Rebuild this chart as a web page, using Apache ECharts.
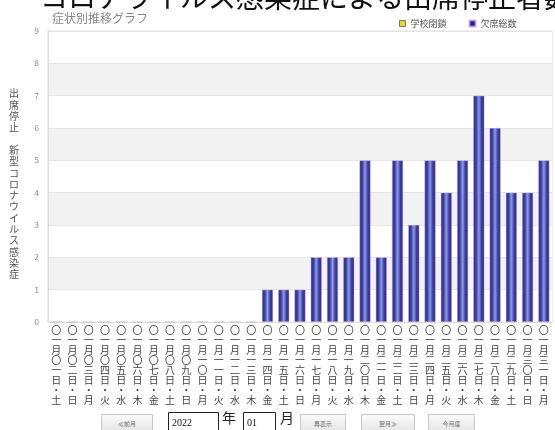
<!DOCTYPE html>
<html><head><meta charset="utf-8">
<script src="https://cdn.jsdelivr.net/npm/echarts@6/dist/echarts.min.js"></script>
<style>html,body{margin:0;padding:0;background:#fff;}#c{width:555px;height:430px;}</style>
</head><body><div id="c"></div>
<script>
const pageTitle = 'コロナウイルス感染症による出席停止者数';
const chartTitle = '症状別推移グラフ';
const yAxisTitle = '出席停止 新型コロナウイルス感染症';
const categories = [
 '〇一月〇一日・土','〇一月〇二日・日','〇一月〇三日・月','〇一月〇四日・火','〇一月〇五日・水','〇一月〇六日・木','〇一月〇七日・金',
 '〇一月〇八日・土','〇一月〇九日・日','〇一月一〇日・月','〇一月一一日・火','〇一月一二日・水','〇一月一三日・木','〇一月一四日・金',
 '〇一月一五日・土','〇一月一六日・日','〇一月一七日・月','〇一月一八日・火','〇一月一九日・水','〇一月二〇日・木','〇一月二一日・金',
 '〇一月二二日・土','〇一月二三日・日','〇一月二四日・月','〇一月二五日・火','〇一月二六日・水','〇一月二七日・木','〇一月二八日・金',
 '〇一月二九日・土','〇一月三〇日・日','〇一月三一日・月'];
const schoolClosure = [0,0,0,0,0,0,0,0,0,0,0,0,0,0,0,0,0,0,0,0,0,0,0,0,0,0,0,0,0,0,0];
const absentTotal   = [0,0,0,0,0,0,0,0,0,0,0,0,0,1,1,1,2,2,2,5,2,5,3,5,4,5,7,6,4,4,5];
const seriesNames = ['学校閉鎖','欠席総数'];
const yearValue = '2022', monthValue = '01';
const buttonLabels = ['≪前月','再表示','翌月≫','今月度'];

const chart = echarts.init(document.getElementById('c'), null, {renderer:'canvas'});
const FONT = '"Noto Sans CJK JP", sans-serif';
const barGrad = new echarts.graphic.LinearGradient(0,0,1,0,[
  {offset:0,color:'#2a2a8e'},{offset:0.25,color:'#3b3ba6'},{offset:0.5,color:'#8a9ddf'},
  {offset:0.75,color:'#3b3ba6'},{offset:1,color:'#2a2a8e'}]);

function button(x,w,label){
  return {type:'group', left:x, top:414, children:[
    {type:'rect', shape:{x:0,y:0,width:w,height:18}, style:{fill:new echarts.graphic.LinearGradient(0,0,0,1,[{offset:0,color:'#fbfbfb'},{offset:1,color:'#e4e4e4'}]), stroke:'#c8c8c8', lineWidth:1}},
    {type:'text', style:{x:w/2,y:6,text:label,fill:'#666',font:'6px '+FONT,textAlign:'center'}}
  ]};
}

chart.setOption({
  animation:false,
  textStyle:{fontFamily:FONT},
  grid:{left:48,right:3,top:31,bottom:108,show:true,borderColor:'#dcdcdc',borderWidth:1},
  legend:{data:[{name:seriesNames[0],itemStyle:{color:'#e6dc1e',borderColor:'#777',borderWidth:1}},{name:seriesNames[1],itemStyle:{color:'#1a1aa6'}}],
    left:394,top:14,icon:'rect',itemWidth:6,itemHeight:6,itemGap:22,
    textStyle:{fontSize:9,color:'#555',fontFamily:FONT}},
  xAxis:{type:'category',data:categories,
    axisLine:{lineStyle:{color:'#dcdcdc'}},axisTick:{show:false},
    axisLabel:{interval:0,margin:3,color:'#444',fontSize:10,lineHeight:10,fontFamily:FONT,
      formatter:v=>v.split('').join('\n')}},
  yAxis:{type:'value',min:0,max:9,interval:1,
    axisLine:{show:true,lineStyle:{color:'#dcdcdc'}},axisTick:{show:false},
    axisLabel:{color:'#888',fontSize:8,margin:9},
    splitLine:{show:true,lineStyle:{color:'#e6e6e6'}},
    splitArea:{show:true,areaStyle:{color:['#ffffff','#f2f2f2']}}},
  series:[
    {name:seriesNames[0],type:'bar',stack:'a',data:schoolClosure,barWidth:'68%',itemStyle:{color:'#e6dc1e'}},
    {name:seriesNames[1],type:'bar',stack:'a',data:absentTotal,barWidth:'68%',
      itemStyle:{color:barGrad,borderColor:'rgba(205,160,215,0.7)',borderWidth:0.6}}
  ],
  graphic:[
    {type:'text',left:40,top:-17,style:{text:pageTitle,fill:'#111',font:'28px '+FONT}},
    {type:'text',left:52,top:12,style:{text:chartTitle,fill:'#888',font:'12px '+FONT}},
    {type:'text',left:9,top:88,style:{text:yAxisTitle.split('').join('\n'),fill:'#555',font:'10px '+FONT,lineHeight:11.3}},
    button(101,51,buttonLabels[0]),
    {type:'rect',left:168,top:412,shape:{x:0,y:0,width:50,height:20},style:{fill:'#fff',stroke:'#222',lineWidth:1}},
    {type:'text',left:172,top:418,style:{text:yearValue,fill:'#111',font:'10px "Liberation Serif", serif'}},
    {type:'text',left:222,top:411,style:{text:'年',fill:'#222',font:'14px '+FONT}},
    {type:'rect',left:243,top:412,shape:{x:0,y:0,width:32,height:20},style:{fill:'#fff',stroke:'#222',lineWidth:1}},
    {type:'text',left:247,top:418,style:{text:monthValue,fill:'#111',font:'10px "Liberation Serif", serif'}},
    {type:'text',left:280,top:411,style:{text:'月',fill:'#222',font:'14px '+FONT}},
    button(300,45,buttonLabels[1]),
    button(361,53,buttonLabels[2]),
    button(428,46,buttonLabels[3])
  ]
});
</script></body></html>
